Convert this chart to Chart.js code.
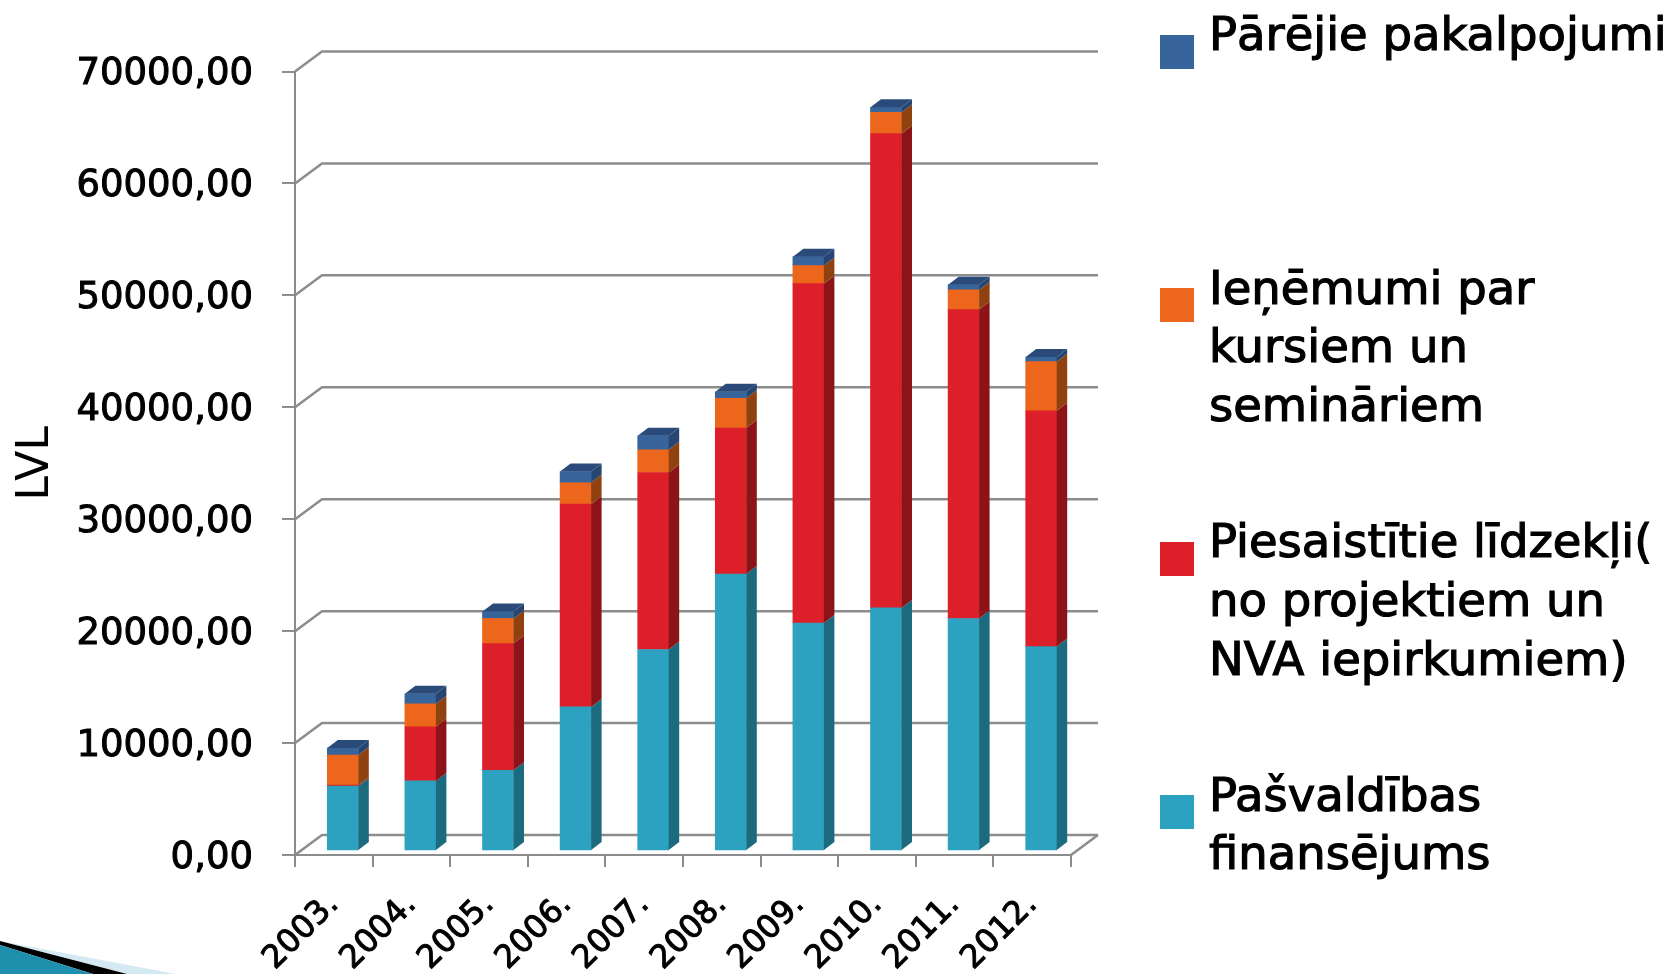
<!DOCTYPE html>
<html>
<head>
<meta charset="utf-8">
<title>LVL</title>
<script src="https://cdn.jsdelivr.net/npm/chart.js@4"></script>
<style>
  html, body { margin: 0; background: #fff; }
  canvas { position: absolute; left: 0; top: 0; }
</style>
</head>
<body>
<canvas id="chart" width="1671" height="974"></canvas>
<script>
const years = ['2003.', '2004.', '2005.', '2006.', '2007.', '2008.', '2009.', '2010.', '2011.', '2012.']
const pasvaldibas = [5810, 6260, 7215, 12870, 18000, 24740, 20360, 21720, 20770, 18265]
const piesaistitie = [90, 4830, 11320, 18120, 15820, 13050, 30330, 42370, 27600, 21070]
const ienemumi = [2680, 2060, 2240, 1900, 2030, 2660, 1610, 1900, 1760, 4380]
const parejie = [625, 890, 625, 1010, 1250, 580, 800, 450, 470, 420]

const font = '"DejaVu Sans", sans-serif'
const gray = '#8c8c8c'
const wall = { x: 27, y: -20 }     // back wall offset from the front axes
const front = { x: 9, y: -4 }      // where the bars stand on the floor
const depth = { x: 10.5, y: -8 }   // depth of a bar

// fill colour, side colour, legend lines with baselines, legend square top
const series = [
  { label: 'Pašvaldības finansējums', data: pasvaldibas, color: '#2ca2c0', side: '#1c6a7e', lines: [['Pašvaldības', 811], ['finansējums', 869]], box: 795 },
  { label: 'Piesaistītie līdzekļi( no projektiem un NVA iepirkumiem)', data: piesaistitie, color: '#dd1f29', side: '#8c1317', lines: [['Piesaistītie līdzekļi(', 557], ['no projektiem un', 616], ['NVA iepirkumiem)', 675]], box: 542 },
  { label: 'Ieņēmumi par kursiem un semināriem', data: ienemumi, color: '#ec661b', side: '#8f420f', lines: [['Ieņēmumi par', 304], ['kursiem un', 362], ['semināriem', 421]], box: 288 },
  { label: 'Pārējie pakalpojumi', data: parejie, color: '#38649c', side: '#264570', top: '#2a4b7a', lines: [['Pārējie pakalpojumi', 50]], box: 35 }
]

function poly(ctx, color, pts) {
  ctx.fillStyle = color
  ctx.beginPath()
  pts.forEach((p, i) => i ? ctx.lineTo(p[0], p[1]) : ctx.moveTo(p[0], p[1]))
  ctx.closePath()
  ctx.fill()
}

const walls = {
  id: 'walls',
  beforeDatasetsDraw(chart) {
    const { ctx, chartArea: a, scales: { y } } = chart
    ctx.save()
    ctx.strokeStyle = gray
    ctx.lineWidth = 2.5
    y.ticks.forEach(t => {
      const py = y.getPixelForValue(t.value)
      ctx.beginPath()
      ctx.moveTo(a.left, py)
      ctx.lineTo(a.left + wall.x, py + wall.y)
      ctx.lineTo(a.right + wall.x, py + wall.y)
      ctx.stroke()
    })
    ctx.beginPath()
    ctx.moveTo(a.right, a.bottom)
    ctx.lineTo(a.right + wall.x, a.bottom + wall.y)
    ctx.stroke()
    ctx.restore()
    ctx.save()
    ctx.translate(front.x, front.y)
  },
  afterDatasetsDraw(chart) {
    const { ctx } = chart
    series.forEach((s, i) => {
      chart.getDatasetMeta(i).data.forEach(bar => {
        const right = bar.x + bar.width / 2
        const left = bar.x - bar.width / 2
        poly(ctx, s.side, [[right, bar.y], [right + depth.x, bar.y + depth.y], [right + depth.x, bar.base + depth.y], [right, bar.base]])
        if (s.top) {
          poly(ctx, s.top, [[left, bar.y], [left + depth.x, bar.y + depth.y], [right + depth.x, bar.y + depth.y], [right, bar.y]])
        }
      })
    })
    ctx.restore()
  }
}

const sideLegend = {
  id: 'sideLegend',
  afterDraw(chart) {
    const { ctx } = chart
    ctx.save()
    ctx.font = '46.5px ' + font
    ctx.textBaseline = 'alphabetic'
    ctx.lineWidth = 1.2
    ctx.strokeStyle = '#000'
    series.forEach(s => {
      ctx.fillStyle = s.color
      ctx.fillRect(1160, s.box, 34, 34)
      ctx.fillStyle = '#000'
      s.lines.forEach(l => {
        ctx.fillText(l[0], 1209, l[1])
        ctx.strokeText(l[0], 1209, l[1])
      })
    })
    ctx.restore()
  }
}

// slide decoration in the bottom left corner
const corner = {
  id: 'corner',
  beforeDraw(chart) {
    const { ctx } = chart
    poly(ctx, '#d5e9f2', [[0, 941], [176, 974], [127, 974]])
    poly(ctx, '#000', [[0, 941], [127, 974], [93, 974], [0, 945]])
    poly(ctx, '#1f8fae', [[0, 945], [93, 974], [0, 974]])
  }
}

new Chart(document.getElementById('chart').getContext('2d'), {
  type: 'bar',
  data: {
    labels: years,
    datasets: series.map(s => ({
      label: s.label,
      data: s.data,
      backgroundColor: s.color,
      barThickness: 31,
      clip: false
    }))
  },
  options: {
    responsive: false,
    animation: false,
    layout: { padding: { top: 71.5, right: 600, bottom: 0, left: 0 } },
    plugins: { legend: { display: false }, tooltip: { enabled: false } },
    scales: {
      x: {
        stacked: true,
        afterFit(scale) { scale.height = 119 },
        border: { color: gray, width: 2 },
        grid: { offset: true, drawOnChartArea: false, color: gray, lineWidth: 2, tickLength: 12 },
        ticks: {
          color: '#000',
          font: { family: font, size: 32 },
          textStrokeColor: '#000',
          textStrokeWidth: 1,
          minRotation: 45,
          maxRotation: 45,
          autoSkip: false,
          padding: 19
        }
      },
      y: {
        stacked: true,
        min: 0,
        max: 70000,
        afterFit(scale) { scale.width = 295 },
        border: { color: gray, width: 2 },
        grid: { drawOnChartArea: false, color: gray, lineWidth: 2, tickLength: 13 },
        title: { display: true, text: 'LVL', color: '#000', font: { family: font, size: 44, weight: '500' }, padding: { top: 10, bottom: 0 } },
        ticks: {
          color: '#000',
          stepSize: 10000,
          font: { family: font, size: 37 },
          textStrokeColor: '#000',
          textStrokeWidth: 1,
          padding: 29,
          labelOffset: 3,
          callback: value => value.toFixed(2).replace('.', ',')
        }
      }
    }
  },
  plugins: [corner, walls, sideLegend]
})
</script>
</body>
</html>
